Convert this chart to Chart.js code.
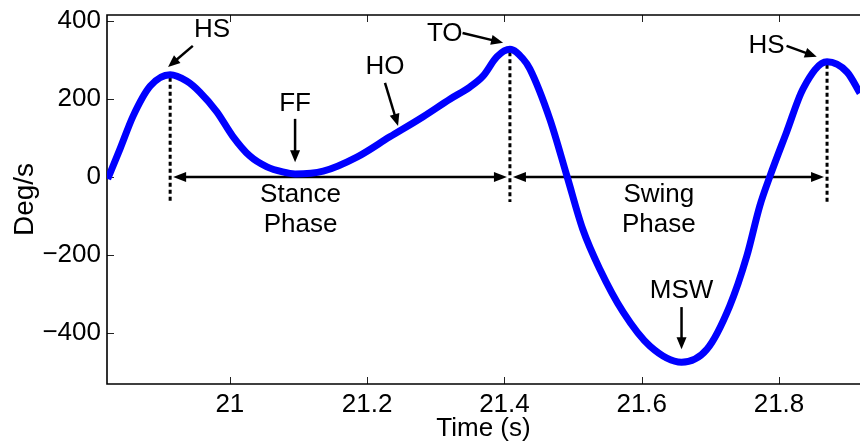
<!DOCTYPE html>
<html>
<head>
<meta charset="utf-8">
<script src="https://cdn.jsdelivr.net/npm/chart.js@4"></script>
<style>
  html, body { margin: 0; padding: 0; background: #fff; }
  #wrap { width: 860px; height: 441px; }
</style>
</head>
<body>
<div id="wrap"><canvas id="gaitChart"></canvas></div>
<script>
// time (s) and shank angular velocity (deg/s)
const time = [20.822, 20.840, 20.859, 20.884, 20.913, 20.937, 20.956, 20.981, 21.004, 21.029,
  21.054, 21.077, 21.095, 21.136, 21.185, 21.233, 21.281, 21.321, 21.350, 21.369,
  21.389, 21.408, 21.427, 21.437, 21.466, 21.491, 21.514, 21.539, 21.573, 21.612,
  21.658, 21.695, 21.728, 21.753, 21.772, 21.787, 21.811, 21.835, 21.870, 21.899, 21.918];
const angVel = [-5, 72, 156, 233, 262, 246, 218, 167, 105, 54,
  26, 13, 8, 15, 51, 103, 154, 200, 231, 259,
  308, 327, 303, 277, 149, 3, -133, -236, -346, -433,
  -474, -441, -331, -203, -74, 3, 115, 226, 295, 269, 215];

const xTickValues = [21, 21.2, 21.4, 21.6, 21.8];
const yTickValues = [-400, -200, 0, 200, 400];

// gait events: heel strike, toe off, heel strike
const eventTimes = [20.913, 21.408, 21.870];
const phaseNames = [["Stance", "Phase"], ["Swing", "Phase"]];
const phaseLabelTimes = [21.103, 21.625];

// labels with arrows, in data units [time, deg/s]
const notes = [
  { text: "HS",  at: [20.974, 377],  from: [20.946, 336],  to: [20.910, 282] },
  { text: "FF",  at: [21.095, 187],  from: [21.095, 149],  to: [21.095, 38] },
  { text: "HO",  at: [21.226, 282],  from: [21.226, 241],  to: [21.245, 131] },
  { text: "TO",  at: [21.313, 367],  from: [21.339, 369],  to: [21.398, 344] },
  { text: "HS",  at: [21.782, 336],  from: [21.811, 336],  to: [21.855, 308] },
  { text: "MSW", at: [21.658, -292], from: [21.658, -333], to: [21.658, -441] }
];

const FAMILY = '"Liberation Sans", Arial, sans-serif';

function head(ctx, x1, y1, x2, y2, len, half) {
  const a = Math.atan2(y2 - y1, x2 - x1);
  const bx = x2 - len * Math.cos(a), by = y2 - len * Math.sin(a);
  ctx.beginPath();
  ctx.moveTo(x2, y2);
  ctx.lineTo(bx + half * Math.sin(a), by - half * Math.cos(a));
  ctx.lineTo(bx - half * Math.sin(a), by + half * Math.cos(a));
  ctx.closePath();
  ctx.fill();
}

function arrow(ctx, x1, y1, x2, y2) {
  const a = Math.atan2(y2 - y1, x2 - x1);
  ctx.beginPath();
  ctx.moveTo(x1, y1);
  ctx.lineTo(x2 - 8 * Math.cos(a), y2 - 8 * Math.sin(a));
  ctx.stroke();
  head(ctx, x1, y1, x2, y2, 12, 5);
}

function valueAt(t) {
  let best = 0;
  time.forEach((tt, i) => { if (Math.abs(tt - t) < Math.abs(time[best] - t)) best = i; });
  return angVel[best];
}

// MATLAB-style box with inward ticks
const boxAxes = {
  id: 'boxAxes',
  beforeDatasetsDraw(chart) {
    const { ctx, chartArea: a, scales: { x, y } } = chart;
    ctx.save();
    ctx.strokeStyle = '#222';
    ctx.lineWidth = 1;
    ctx.beginPath();
    xTickValues.forEach(v => {
      const p = Math.round(x.getPixelForValue(v)) + 0.5;
      ctx.moveTo(p, a.bottom); ctx.lineTo(p, a.bottom - 7);
      ctx.moveTo(p, a.top); ctx.lineTo(p, a.top + 7);
    });
    yTickValues.forEach(v => {
      const p = Math.round(y.getPixelForValue(v)) + 0.5;
      ctx.moveTo(a.left, p); ctx.lineTo(a.left + 7, p);
    });
    ctx.stroke();
    ctx.lineWidth = 1.6;
    ctx.strokeStyle = '#000';
    ctx.beginPath();
    ctx.moveTo(a.right + 2, a.top);
    ctx.lineTo(a.left, a.top);
    ctx.lineTo(a.left, a.bottom);
    ctx.lineTo(a.right + 2, a.bottom);
    ctx.stroke();

    // event markers and phase arrows
    const ex = eventTimes.map(t => x.getPixelForValue(t));
    const y0 = y.getPixelForValue(0);
    ctx.lineWidth = 3;
    ctx.setLineDash([4, 3]);
    eventTimes.forEach((t, i) => {
      ctx.beginPath();
      ctx.moveTo(ex[i], y.getPixelForValue(valueAt(t)) + 3);
      ctx.lineTo(ex[i], y.getPixelForValue(-64));
      ctx.stroke();
    });
    ctx.setLineDash([]);
    ctx.lineWidth = 2.5;
    ctx.fillStyle = '#000';
    for (let i = 0; i < 2; i++) {
      const l = ex[i] + 3, r = ex[i + 1] - 3;
      ctx.beginPath();
      ctx.moveTo(l + 8, y0); ctx.lineTo(r - 8, y0);
      ctx.stroke();
      head(ctx, r, y0, l, y0, 13, 5);
      head(ctx, l, y0, r, y0, 13, 5);
    }
    ctx.restore();
  },
  afterDatasetsDraw(chart) {
    const { ctx, scales: { x, y } } = chart;
    const P = d => [x.getPixelForValue(d[0]), y.getPixelForValue(d[1])];
    ctx.save();
    ctx.fillStyle = '#000';
    ctx.strokeStyle = '#000';
    ctx.lineWidth = 2.5;
    ctx.font = '26px ' + FAMILY;
    ctx.textAlign = 'center';
    ctx.textBaseline = 'middle';
    notes.forEach(n => {
      const [tx, ty] = P(n.at);
      ctx.fillText(n.text, tx, ty);
      const [fx, fy] = P(n.from), [gx, gy] = P(n.to);
      arrow(ctx, fx, fy, gx, gy);
    });
    const y0 = y.getPixelForValue(0);
    phaseNames.forEach((lines, i) => {
      const cx = x.getPixelForValue(phaseLabelTimes[i]);
      lines.forEach((s, k) => ctx.fillText(s, cx, y0 + 18 + k * 30));
    });
    ctx.restore();
  }
};

const ctx = document.getElementById('gaitChart').getContext('2d');
new Chart(ctx, {
  type: 'line',
  data: {
    datasets: [{
      data: time.map((t, i) => ({ x: t, y: angVel[i] })),
      borderColor: '#0000ff',
      borderWidth: 7,
      pointRadius: 0,
      fill: false,
      cubicInterpolationMode: 'monotone'
    }]
  },
  options: {
    responsive: true,
    maintainAspectRatio: false,
    animation: false,
    layout: { padding: { top: 15, right: 0, left: 0, bottom: 0 } },
    plugins: { legend: { display: false }, tooltip: { enabled: false } },
    scales: {
      x: {
        type: 'linear',
        min: 20.821,
        max: 21.918,
        grid: { display: false, drawTicks: false },
        border: { display: false },
        afterBuildTicks: s => { s.ticks = xTickValues.map(v => ({ value: v })); },
        afterFit: s => { s.height = 57; s.paddingLeft = 0; s.paddingRight = 0; },
        ticks: {
          color: '#000',
          padding: 5,
          font: { family: FAMILY, size: 26, lineHeight: 1.2 },
          callback: v => String(v)
        },
        title: {
          display: true,
          text: 'Time (s)',
          color: '#000',
          padding: 0,
          font: { family: FAMILY, size: 26, lineHeight: 0.9 }
        }
      },
      y: {
        min: -530,
        max: 415,
        grid: { display: false, drawTicks: false },
        border: { display: false },
        afterBuildTicks: s => { s.ticks = yTickValues.map(v => ({ value: v })); },
        afterFit: s => { s.width = 107; s.paddingTop = 0; s.paddingBottom = 0; },
        ticks: {
          color: '#000',
          padding: 6,
          font: { family: FAMILY, size: 26 },
          callback: v => (v < 0 ? '\u2212' + Math.abs(v) : String(v))
        },
        title: {
          display: true,
          text: 'Deg/s',
          color: '#000',
          padding: { top: 8, bottom: 0 },
          font: { family: FAMILY, size: 28, lineHeight: 1.2 }
        }
      }
    }
  },
  plugins: [boxAxes]
});
</script>
</body>
</html>
